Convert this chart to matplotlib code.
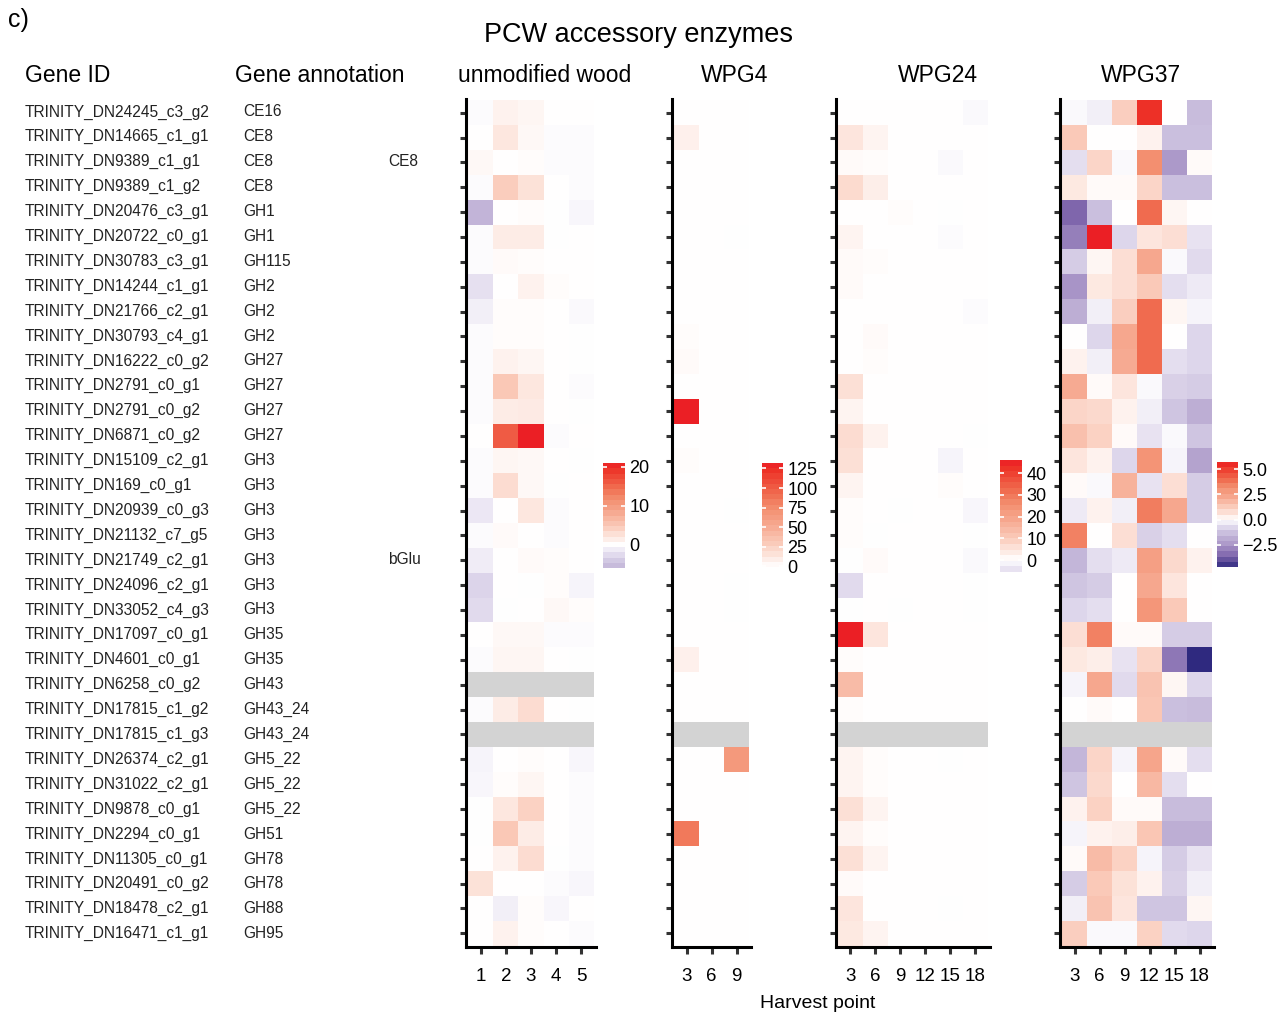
import numpy as np
import matplotlib
matplotlib.use("Agg")
import matplotlib.pyplot as plt
from matplotlib.colors import LinearSegmentedColormap, Normalize
from matplotlib.cm import ScalarMappable
from matplotlib.ticker import FuncFormatter

plt.rcParams['font.family'] = ['Liberation Sans', 'DejaVu Sans']

nan = np.nan

# Genes (rows)
gene_ids = [
    "TRINITY_DN24245_c3_g2", "TRINITY_DN14665_c1_g1", "TRINITY_DN9389_c1_g1",
    "TRINITY_DN9389_c1_g2", "TRINITY_DN20476_c3_g1", "TRINITY_DN20722_c0_g1",
    "TRINITY_DN30783_c3_g1", "TRINITY_DN14244_c1_g1", "TRINITY_DN21766_c2_g1",
    "TRINITY_DN30793_c4_g1", "TRINITY_DN16222_c0_g2", "TRINITY_DN2791_c0_g1",
    "TRINITY_DN2791_c0_g2", "TRINITY_DN6871_c0_g2", "TRINITY_DN15109_c2_g1",
    "TRINITY_DN169_c0_g1", "TRINITY_DN20939_c0_g3", "TRINITY_DN21132_c7_g5",
    "TRINITY_DN21749_c2_g1", "TRINITY_DN24096_c2_g1", "TRINITY_DN33052_c4_g3",
    "TRINITY_DN17097_c0_g1", "TRINITY_DN4601_c0_g1", "TRINITY_DN6258_c0_g2",
    "TRINITY_DN17815_c1_g2", "TRINITY_DN17815_c1_g3", "TRINITY_DN26374_c2_g1",
    "TRINITY_DN31022_c2_g1", "TRINITY_DN9878_c0_g1", "TRINITY_DN2294_c0_g1",
    "TRINITY_DN11305_c0_g1", "TRINITY_DN20491_c0_g2", "TRINITY_DN18478_c2_g1",
    "TRINITY_DN16471_c1_g1",
]
annotations = [
    "CE16", "CE8", "CE8", "CE8", "GH1", "GH1", "GH115", "GH2", "GH2", "GH2",
    "GH27", "GH27", "GH27", "GH27", "GH3", "GH3", "GH3", "GH3", "GH3", "GH3",
    "GH3", "GH35", "GH35", "GH43", "GH43_24", "GH43_24", "GH5_22", "GH5_22",
    "GH5_22", "GH51", "GH78", "GH78", "GH88", "GH95",
]

# Harvest points
wood_cols = ["1", "2", "3", "4", "5"]
wpg4_cols = ["3", "6", "9"]
wpg_cols = ["3", "6", "9", "12", "15", "18"]

# unmodified wood
wood = [
    [-0.3, 1.0, 0.7, 0.0, 0.1],
    [0.0, 2.0, 0.5, -0.3, -0.3],
    [0.5, 0.0, 0.3, -0.2, -0.2],
    [-0.2, 4.5, 2.5, 0.0, -0.2],
    [-6.0, 0.0, 0.3, -0.1, -0.6],
    [-0.2, 1.5, 1.5, -0.1, 0.0],
    [-0.2, 0.4, 0.3, 0.0, 0.1],
    [-2.0, 0.0, 1.0, 0.3, 0.1],
    [-1.0, 0.2, 0.2, 0.0, -0.4],
    [-0.3, 0.3, 0.3, 0.0, -0.1],
    [-0.2, 1.0, 0.7, 0.0, -0.1],
    [-0.2, 5.0, 2.0, 0.0, -0.2],
    [-0.2, 1.5, 1.8, 0.0, -0.1],
    [0.0, 16.0, 21.0, -0.2, 0.0],
    [-0.3, 0.8, 0.6, 0.0, -0.1],
    [-0.3, 3.0, 0.6, -0.1, 0.0],
    [-1.5, 0.0, 2.0, -0.3, 0.0],
    [-0.3, 0.4, 0.0, -0.3, 0.0],
    [-1.2, 0.0, 0.4, 0.2, 0.0],
    [-3.0, 0.0, -0.1, 0.2, -0.8],
    [-2.5, -0.1, 0.0, 0.5, 0.3],
    [0.0, 0.6, 0.6, -0.2, -0.2],
    [-0.2, 0.8, 0.8, 0.0, -0.1],
    [nan, nan, nan, nan, nan],
    [-0.3, 1.5, 3.0, 0.0, -0.1],
    [nan, nan, nan, nan, nan],
    [-0.8, 0.0, 0.3, 0.0, -0.5],
    [-0.6, 0.3, 0.8, 0.0, -0.2],
    [-0.1, 2.0, 4.0, 0.0, -0.2],
    [-0.1, 5.0, 1.5, 0.0, -0.2],
    [0.0, 1.0, 3.0, -0.1, -0.2],
    [2.5, 0.0, 0.0, -0.3, -0.5],
    [0.0, -1.0, 0.2, -0.6, 0.0],
    [0.0, 1.0, 0.3, 0.0, -0.2],
]

# WPG4
wpg4 = [
    [0.5, 0, 0], [8, 0, 0], [0.5, 0, 0], [0.5, 0, 0], [0, 0, 0],
    [0, 0, -0.5], [1, 0, 0], [0.5, 0, 0], [0, 0, 0], [1.5, 0, 0],
    [3, 0, 0], [0.5, 0, 0], [132, 0, 0], [0.5, 0, 0], [1.5, 0, 0],
    [0.5, 0, 0], [0, 0, -0.5], [0, 0, 0], [0, 0, 0], [0, 0, -1],
    [0, 0, -0.7], [0, 0, 0], [8, 0, 0], [1, 0, 0], [1, 0, 0],
    [nan, nan, nan], [0, 0, 65], [0, 0, 0], [0, 0, 0], [85, 0, 0],
    [0, 0, 0], [0, 0, 0], [0, 0, 0], [0.3, 0, 0],
]

# WPG24
wpg24 = [
    [0.0, 0.3, 0.3, 0.3, 0.3, -1.0],
    [5.0, 2.0, 0.0, 0.0, 0.1, 0.1],
    [1.0, 0.5, 0.0, 0.0, -0.8, 0.0],
    [7.0, 3.0, 0.2, 0.2, 0.2, 0.2],
    [0.2, 0.2, 0.4, 0.0, -0.3, 0.0],
    [2.0, 0.1, 0.0, 0.0, -0.4, 0.1],
    [0.8, 0.4, 0.0, 0.0, 0.0, 0.0],
    [0.8, 0.0, 0.0, 0.0, 0.0, 0.1],
    [0.0, 0.3, 0.0, 0.0, 0.1, -0.6],
    [0.0, 1.0, 0.2, 0.2, 0.1, 0.0],
    [0.0, 0.5, 0.2, 0.2, 0.1, 0.0],
    [6.0, 0.2, 0.2, 0.2, 0.0, 0.0],
    [2.0, 0.3, 0.0, 0.0, 0.1, 0.0],
    [6.5, 2.5, 0.2, 0.2, 0.0, -0.1],
    [6.0, 0.0, 0.0, 0.2, -1.5, 0.0],
    [2.0, 0.1, 0.0, 0.1, 0.5, 0.0],
    [0.5, 0.0, -0.2, 0.0, 0.0, -1.2],
    [0.5, -0.2, 0.0, 0.0, 0.0, -0.3],
    [-0.2, 1.0, 0.0, 0.2, 0.0, -1.0],
    [-5.5, 0.0, 0.0, 0.3, 0.0, -0.2],
    [-0.1, 0.1, -0.1, 0.0, 0.0, -0.1],
    [46.0, 5.0, 0.0, 0.0, 0.1, 0.1],
    [0.5, 0.2, 0.0, 0.0, 0.0, 0.0],
    [14.0, 0.3, 0.2, 0.0, 0.0, 0.0],
    [0.5, 0.2, 0.0, 0.0, 0.1, 0.0],
    [nan, nan, nan, nan, nan, nan],
    [2.0, 0.5, 0.0, 0.0, -0.2, 0.0],
    [2.0, 0.5, 0.0, 0.0, 0.0, 0.0],
    [6.0, 2.0, 0.2, 0.0, 0.1, 0.0],
    [2.0, 0.5, 0.2, 0.2, 0.2, 0.1],
    [6.0, 2.0, 0.0, 0.1, 0.1, 0.0],
    [1.0, 0.2, 0.2, 0.2, 0.2, 0.1],
    [5.0, 0.0, 0.0, 0.0, -0.2, 0.0],
    [4.0, 2.0, 0.1, 0.1, 0.1, 0.0],
]

# WPG37
wpg37 = [
    [-0.1, -0.3, 1.2, 5.3, 0.0, -1.4],
    [1.3, 0.0, 0.0, 0.3, -1.3, -1.3],
    [-0.6, 1.0, -0.1, 3.2, -2.4, 0.1],
    [0.5, 0.1, 0.1, 1.0, -1.3, -1.3],
    [-3.6, -1.3, 0.0, 4.0, 0.2, 0.0],
    [-3.0, 5.7, -0.8, 0.6, 0.8, -0.5],
    [-1.0, 0.2, 0.8, 2.3, -0.1, -0.7],
    [-2.5, 0.5, 0.8, 1.3, -0.6, -0.4],
    [-1.8, -0.3, 1.2, 4.0, 0.2, -0.2],
    [0.0, -0.8, 2.3, 4.0, 0.0, -0.8],
    [0.3, -0.3, 2.2, 4.0, -0.6, -0.8],
    [2.2, 0.1, 0.6, -0.1, -0.9, -1.0],
    [1.0, 0.9, 0.3, -0.3, -1.2, -1.8],
    [1.6, 1.1, 0.1, -0.5, -0.1, -1.2],
    [0.6, 0.3, -0.8, 3.0, -0.2, -2.1],
    [0.1, -0.1, 2.0, -0.5, 0.8, -1.0],
    [-0.4, 0.3, -0.3, 3.6, 2.3, -1.0],
    [3.5, 0.0, 0.8, -0.9, -0.6, 0.0],
    [-1.6, -0.6, -0.4, 2.6, 0.9, 0.3],
    [-1.2, -1.0, 0.0, 2.3, 0.6, 0.0],
    [-0.8, -0.6, 0.0, 2.9, 1.3, 0.0],
    [0.8, 3.5, 0.1, 0.1, -1.0, -1.0],
    [0.5, 0.4, -0.5, 1.0, -3.2, -4.7],
    [-0.2, 2.3, -0.7, 1.5, 0.2, -0.8],
    [0.0, 0.1, 0.0, 1.4, -1.3, -1.4],
    [nan, nan, nan, nan, nan, nan],
    [-1.6, 1.0, -0.2, 2.4, 0.1, -0.6],
    [-1.2, 0.9, 0.0, 1.8, -0.6, 0.0],
    [0.3, 1.1, 0.1, 0.1, -1.4, -1.4],
    [-0.2, 0.3, 0.4, 1.4, -1.8, -1.8],
    [0.1, 1.7, 1.1, -0.2, -1.0, -0.5],
    [-1.0, 1.3, 0.7, 0.3, -0.9, -0.3],
    [-0.3, 1.5, 0.6, -1.2, -1.2, 0.2],
    [1.2, -0.1, -0.1, 1.1, -0.7, -0.8],
]

# colormap purple - white - red (gradient2 like)
stops = [
    (0.0, '#221d70'), (0.09, '#302a80'), (0.18, '#7d64ab'), (0.28, '#a995c7'),
    (0.386, '#cbc0de'), (0.45, '#e5dff0'), (0.5, '#ffffff'), (0.544, '#fde9e2'),
    (0.614, '#facab9'), (0.70, '#f6a88f'), (0.78, '#f38f70'), (0.85, '#f06b4f'),
    (0.965, '#ed3227'), (1.0, '#eb1f25'),
]
cmap = LinearSegmentedColormap.from_list('pw', stops)
cmap.set_bad('#d3d3d3')

W, H = 1282, 1014
fig = plt.figure(figsize=(W / 100, H / 100), dpi=100)


def box(x0, y0, x1, y1):
    return [x0 / W, 1 - y1 / H, (x1 - x0) / W, (y1 - y0) / H]


nrow = len(gene_ids)
panels = [
    # data, cols, title, axes px, colorbar px, ticks, title x
    (wood, wood_cols, "unmodified wood", (466, 99, 596, 947), (603, 463, 625, 568), [0, 10, 20], 545),
    (wpg4, wpg4_cols, "WPG4", (672, 99, 751, 947), (762, 463, 783, 567), [0, 25, 50, 75, 100, 125], 735),
    (wpg24, wpg_cols, "WPG24", (836, 99, 990, 947), (1000, 460, 1022, 572), [0, 10, 20, 30, 40], 938),
    (wpg37, wpg_cols, "WPG37", (1060, 99, 1214, 947), (1217, 462, 1238, 567), [-2.5, 0, 2.5, 5.0], 1141),
]

for vals, cols, title, apx, cpx, cticks, tx in panels:
    arr = np.array(vals, dtype=float)
    ncol = arr.shape[1]
    M = np.nanmax(np.abs(arr))
    norm = Normalize(-M, M)
    ax = fig.add_axes(box(*apx))
    ax.pcolormesh(np.arange(ncol + 1) + 0.5, np.arange(nrow + 1) - 0.5,
                  np.ma.masked_invalid(arr), cmap=cmap, norm=norm)
    ax.set_xlim(0.42, ncol + 0.58)
    ax.set_ylim(nrow - 0.45, -0.55)
    ax.set_xticks(np.arange(1, ncol + 1))
    ax.set_xticklabels(cols, fontsize=13.5)
    ax.set_yticks(np.arange(nrow))
    ax.set_yticklabels([])
    ax.tick_params(axis='both', direction='out', length=5, width=2.2, color='#333333', pad=10)
    ax.tick_params(axis='y', length=4)
    for s in ['top', 'right']:
        ax.spines[s].set_visible(False)
    for s in ['left', 'bottom']:
        ax.spines[s].set_linewidth(2.2)
    fig.text(tx / W, 1 - 75 / H, title, fontsize=16.5, ha='center', va='center')

    # colour bar
    cax = fig.add_axes(box(*cpx))
    vmin, vmax = np.nanmin(arr), np.nanmax(arr)
    cb = fig.colorbar(ScalarMappable(norm=norm, cmap=cmap), cax=cax,
                      boundaries=np.linspace(vmin, vmax, 21))
    cb.outline.set_visible(False)
    cb.set_ticks(cticks)
    if title == "WPG37":
        cb.ax.yaxis.set_major_formatter(FuncFormatter(lambda v, _: f"{v:.1f}".replace('-', '\u2212')))
    cax.tick_params(direction='in', colors='white', length=3, width=1.2,
                    labelcolor='black', labelsize=13, left=True, right=True, pad=3)

# left labels
for i, (g, a) in enumerate(zip(gene_ids, annotations)):
    y = 1 - (112 + i * 24.9) / H
    fig.text(25 / W, y, g, fontsize=11.2, ha='left', va='center', color='#222222')
    fig.text(243 / W, y, a, fontsize=11.2, ha='left', va='center', color='#222222')

fig.text(388 / W, 1 - 162 / H, "CE8", fontsize=11.2, ha='left', va='center', color='#222222')
fig.text(388 / W, 1 - 560 / H, "bGlu", fontsize=11.2, ha='left', va='center', color='#222222')

fig.text(25 / W, 1 - 75 / H, "Gene ID", fontsize=16.5, ha='left', va='center')
fig.text(235 / W, 1 - 75 / H, "Gene annotation", fontsize=16.5, ha='left', va='center')
fig.text(8 / W, 1 - 20 / H, "c)", fontsize=18, ha='left', va='center')
fig.text(638 / W, 1 - 35 / H, "PCW accessory enzymes", fontsize=19.5, ha='center', va='center')
fig.text(818 / W, 1 - 1003 / H, "Harvest point", fontsize=14, ha='center', va='center')

fig.savefig("out.png", dpi=100)
